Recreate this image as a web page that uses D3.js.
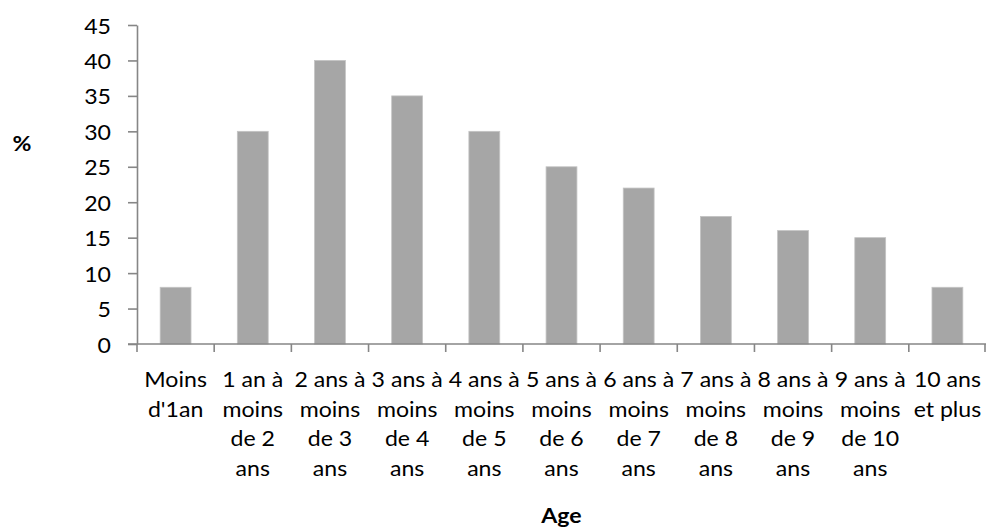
<!DOCTYPE html>
<html>
<head>
<meta charset="utf-8">
<script src="https://cdn.jsdelivr.net/npm/d3@7/dist/d3.min.js"></script>
<style>
  html, body { margin: 0; padding: 0; background: #fff; }
  svg { display: block; }
  text { font-family: Lato, "Open Sans", "DejaVu Sans", sans-serif; fill: #000; }
</style>
</head>
<body>
<svg id="chart" width="986" height="528"></svg>
<script>
// Age groups, each label already broken into its display lines
const categories = [
  ["Moins", "d'1an"],
  ["1 an à", "moins", "de 2", "ans"],
  ["2 ans à", "moins", "de 3", "ans"],
  ["3 ans à", "moins", "de 4", "ans"],
  ["4 ans à", "moins", "de 5", "ans"],
  ["5 ans à", "moins", "de 6", "ans"],
  ["6 ans à", "moins", "de 7", "ans"],
  ["7 ans à", "moins", "de 8", "ans"],
  ["8 ans à", "moins", "de 9", "ans"],
  ["9 ans à", "moins", "de 10", "ans"],
  ["10 ans", "et plus"]
];
const values = [8, 30, 40, 35, 30, 25, 22, 18, 16, 15, 8];
const yTicks = [0, 5, 10, 15, 20, 25, 30, 35, 40, 45];
const yTitle = "%";
const xTitle = "Age";

const W = 986, H = 528;
const margin = { top: 25, right: 0, bottom: 184, left: 137 };
const fontSize = 21;
const stretch = 1.1;       // horizontal widening of the label glyphs
const lineGap = 29.5;
const axisColor = "#868686";

const svg = d3.select("#chart");
const keys = categories.map((_, i) => i);

const x = d3.scaleBand()
  .domain(keys)
  .range([margin.left, W - margin.right])
  .paddingInner(0.6)
  .paddingOuter(0.3);

const y = d3.scaleLinear()
  .domain([0, d3.max(yTicks)])
  .range([H - margin.bottom, margin.top]);

const y0 = y(0);
const slack = (x.step() - x.bandwidth()) / 2;

// bars
svg.append("g")
  .selectAll("rect")
  .data(values)
  .join("rect")
  .attr("x", (d, i) => x(i))
  .attr("y", d => y(d))
  .attr("width", x.bandwidth())
  .attr("height", d => y0 - y(d))
  .attr("fill", "#a6a6a6")
  .attr("stroke", "#c4c4c4")
  .attr("stroke-width", 0.8);

// y axis
const yAxis = svg.append("g")
  .attr("transform", `translate(${margin.left},0)`)
  .call(d3.axisLeft(y).tickValues(yTicks).tickSize(9).tickSizeOuter(0).tickPadding(17));
yAxis.select(".domain").attr("stroke", axisColor).attr("stroke-width", 1.6);
yAxis.selectAll(".tick line").attr("stroke", axisColor).attr("stroke-width", 1.6);
yAxis.selectAll(".tick text")
  .attr("font-size", fontSize)
  .attr("font-family", null)
  .attr("fill", "#000")
  .each(function () {
    const t = d3.select(this);
    const xx = +t.attr("x");
    t.attr("x", 0).attr("dy", null).attr("dominant-baseline", "central")
     .attr("transform", `translate(${xx},0) scale(${stretch},1)`);
  });

// x axis line and boundary ticks
const boundaries = keys.map(i => x(i) - slack).concat([x(keys.length - 1) + x.bandwidth() + slack]);
const xAxis = svg.append("g");
xAxis.append("line")
  .attr("x1", margin.left - 9).attr("x2", W)
  .attr("y1", y0).attr("y2", y0)
  .attr("stroke", axisColor).attr("stroke-width", 1.6);
xAxis.selectAll("line.tk")
  .data(boundaries)
  .join("line")
  .attr("class", "tk")
  .attr("x1", d => Math.min(d, W - 1)).attr("x2", d => Math.min(d, W - 1))
  .attr("y1", y0).attr("y2", y0 + 8)
  .attr("stroke", axisColor).attr("stroke-width", 1.6);

// category labels
const firstBaseline = y0 + 43;
const labels = svg.append("g");
categories.forEach((lines, i) => {
  const cx = x(i) + x.bandwidth() / 2;
  lines.forEach((ln, j) => {
    labels.append("text")
      .attr("text-anchor", "middle")
      .attr("font-size", fontSize)
      .attr("transform", `translate(${cx},${firstBaseline + j * lineGap}) scale(${stretch},1)`)
      .text(ln);
  });
});

// axis titles
svg.append("text")
  .attr("text-anchor", "middle")
  .attr("font-size", fontSize)
  .attr("font-weight", "bold")
  .attr("transform", `translate(${(margin.left + W) / 2},${H - 5}) scale(${stretch},1)`)
  .text(xTitle);

svg.append("text")
  .attr("text-anchor", "middle")
  .attr("font-size", fontSize)
  .attr("font-weight", "bold")
  .attr("transform", `translate(22,151) scale(${stretch},1)`)
  .text(yTitle);
</script>
</body>
</html>
